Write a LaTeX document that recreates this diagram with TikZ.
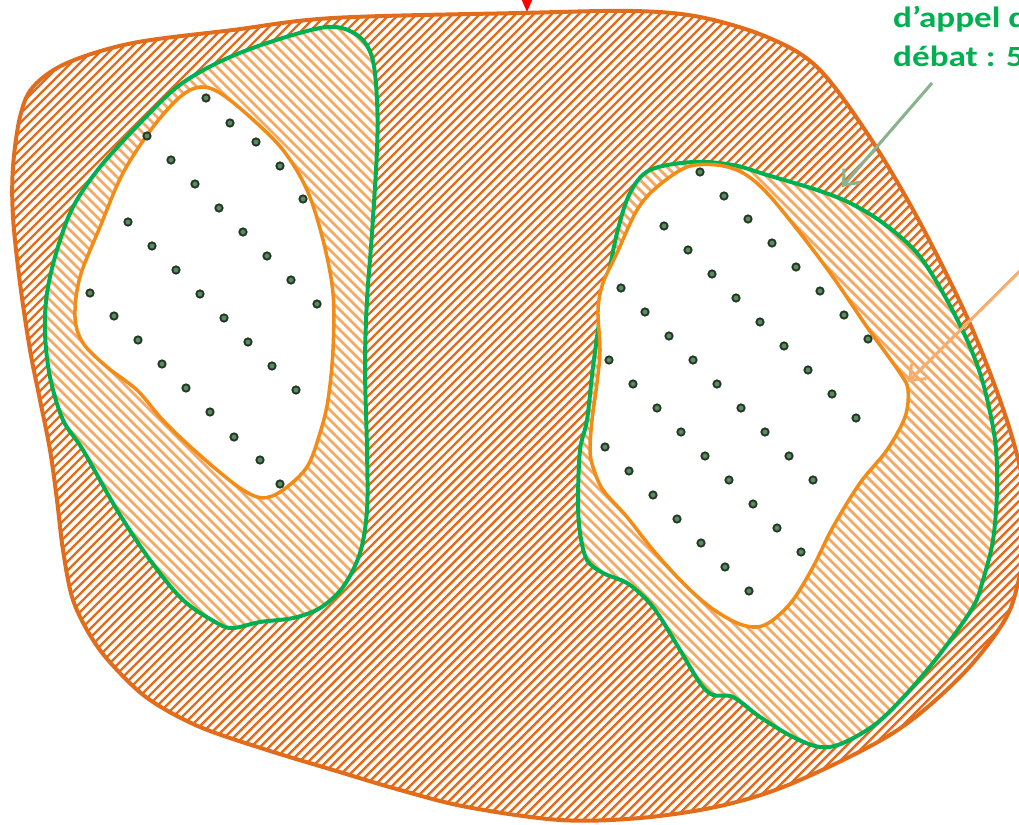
\documentclass[tikz,border=0pt]{standalone}
\usepackage{fontspec}
\setmainfont{Carlito}
\usepackage{xcolor}
\usetikzlibrary{arrows.meta}

\definecolor{bordOrange}{HTML}{E36C1B}
\definecolor{traitOrange}{HTML}{F28C17}
\definecolor{hachClair}{HTML}{F4A862}
\definecolor{flecheClair}{HTML}{F5AE6E}
\definecolor{vertZone}{HTML}{00B050}
\definecolor{vertGris}{HTML}{8AB28D}
\definecolor{pointFonce}{HTML}{233826}
\definecolor{pointClair}{HTML}{5B8C5D}

% Contours (unité : pixel de l'image)
\newcommand{\contourExt}{plot[smooth cycle, tension=0.55] coordinates {
    (520,13) (633,11) (700,17) (767,37) (817,67) (867,133) (917,217) (967,317)
    (1000,400) (1019,463) (1028,520) (1018,583) (1003,623) (960,677) (893,733)
    (793,783) (720,806) (640,818) (560,820) (467,807) (400,790) (333,770)
    (267,750) (200,727) (150,700) (117,670) (93,640) (73,600) (63,550) (57,500)
    (50,450) (40,400) (30,350) (20,283) (13,217) (13,167) (20,117) (33,87)
    (67,63) (133,43) (233,30) (333,18)}}
\newcommand{\contourVertG}{plot[smooth cycle, tension=0.55] coordinates {
    (327,27) (357,35) (372,57) (377,100) (377,150) (372,233) (367,300) (365,367)
    (367,450) (367,510) (360,553) (343,587) (320,608) (293,618) (260,622)
    (233,628) (217,623) (183,600) (150,560) (117,510) (83,450) (63,420)
    (50,377) (45,333) (47,293) (57,250) (73,207) (100,167) (140,123) (177,87)
    (217,63) (267,43)}}
\newcommand{\contourVertD}{plot[smooth cycle, tension=0.55] coordinates {
    (693,162) (733,165) (767,175) (817,190) (850,203) (883,223) (917,253)
    (943,293) (967,340) (983,383) (995,440) (997,490) (993,540) (983,580)
    (973,607) (943,650) (910,690) (877,723) (843,743) (820,747) (793,737)
    (760,717) (733,697) (713,695) (700,683) (680,650) (660,617) (647,600)
    (627,583) (603,573) (587,560) (580,533) (578,500) (580,450) (587,420)
    (593,367) (600,317) (607,283) (617,233) (630,193) (650,170)}}

\begin{document}
\begin{tikzpicture}[x=0.03cm, y=-0.03cm,
    hachFonce/.style={bordOrange, line width=2.1pt},
    hachPale/.style={hachClair, line width=2.4pt},
    bordVert/.style={draw=vertZone, line width=3.4pt},
    zoneInt/.style={draw=traitOrange, line width=3pt, fill=white},
    graine/.style={fill=pointClair, draw=pointFonce, line width=1.6pt},
    fleche/.style={line width=2.6pt, -{Straight Barb[length=11pt, width=18pt]}},
    lbl/.style={font=\fontsize{25}{29}\selectfont\bfseries, text=vertZone, inner sep=0pt}]
    \useasboundingbox (0,0) rectangle (1019,825);

    % Grande zone hachurée
    \fill[white] \contourExt;
    \begin{scope}
        \clip \contourExt;
        \foreach \c in {0,9,...,1900}
            \draw[hachFonce] (\c,-10) -- ++(-900,900);
    \end{scope}
    \draw[bordOrange, line width=3.4pt] \contourExt;

    % Zones vertes (gauche puis droite)
    \foreach \zone in {\contourVertG, \contourVertD} {
        \fill[white] \zone;
        \begin{scope}
            \clip \zone;
            \foreach \c in {-900,-890,...,1030}
                \draw[hachPale] (\c,-10) -- ++(900,900);
        \end{scope}
        \draw[bordVert] \zone;
    }

    % Zones intérieures blanches
    \draw[zoneInt] plot[smooth cycle, tension=0.55] coordinates {
        (200,87) (220,93) (250,117) (283,150) (307,190) (323,240) (333,293)
        (333,350) (328,400) (320,433) (307,467) (283,490) (263,498) (243,490)
        (217,470) (183,440) (160,417) (137,390) (107,367) (83,343) (75,317)
        (80,277) (100,227) (123,173) (153,127) (180,97)};
    \draw[zoneInt] plot[smooth cycle, tension=0.55] coordinates {
        (687,167) (717,165) (743,173) (767,193) (800,233) (833,277) (867,327)
        (900,373) (908,390) (905,417) (887,450) (860,483) (833,527) (813,567)
        (793,600) (773,620) (757,627) (737,623) (710,607) (683,583) (653,550)
        (627,517) (603,490) (593,467) (590,450) (592,420) (597,383) (600,350)
        (598,310) (603,283) (617,253) (637,210) (657,187)};

    % Points (gauche)
    \foreach \x/\y in {206/98, 230/123, 256/142, 280/166, 303/199,
        147/136, 171/160, 195/184, 219/208, 243/232, 267/256, 291/280, 317/304,
        128/222, 152/246, 176/270, 200/294, 224/318, 248/342, 272/366, 296/390,
        90/293, 114/316, 138/340, 162/364, 186/388, 210/412, 234/437, 260/460, 280/484}
        \filldraw[graine] (\x,\y) circle (3.1pt);
    % Points (droite)
    \foreach \x/\y in {700/172, 724/196, 748/219, 772/243, 796/267, 820/291, 844/315, 868/339,
        664/226, 688/250, 712/274, 736/298, 760/322, 784/346, 808/370, 832/394, 856/418,
        621/288, 645/312, 669/336, 693/360, 717/384, 741/408, 765/432, 789/456, 813/480,
        609/360, 633/384, 657/408, 681/432, 705/456, 729/480, 753/504, 777/528, 801/552,
        605/447, 629/471, 653/495, 677/519, 701/543, 725/567, 749/591}
        \filldraw[graine] (\x,\y) circle (3.1pt);

    % Texte et flèches
    \node[lbl, anchor=base west] (lblAppel) at (893,28) {\scalebox{1.2}[1]{d’appel d}};
    \node[lbl, anchor=base west] (lblDebat) at (893,67) {\scalebox{1.2}[1]{débat : 5}};

    \coordinate (queueVerte) at (932,83);
    \coordinate (pointeVerte) at (842,187);
    \draw[fleche, vertGris] (queueVerte) -- (pointeVerte);

    \coordinate (queueOrange) at (1032,259);
    \coordinate (pointeOrange) at (908,382);
    \draw[fleche, flecheClair] (queueOrange) -- (pointeOrange);

    \coordinate (queueRouge) at (527,-40);
    \coordinate (pointeRouge) at (527,12);
    \draw[red, line width=2pt, -{Triangle[length=12pt, width=10pt]}] (queueRouge) -- (pointeRouge);
\end{tikzpicture}
\end{document}
